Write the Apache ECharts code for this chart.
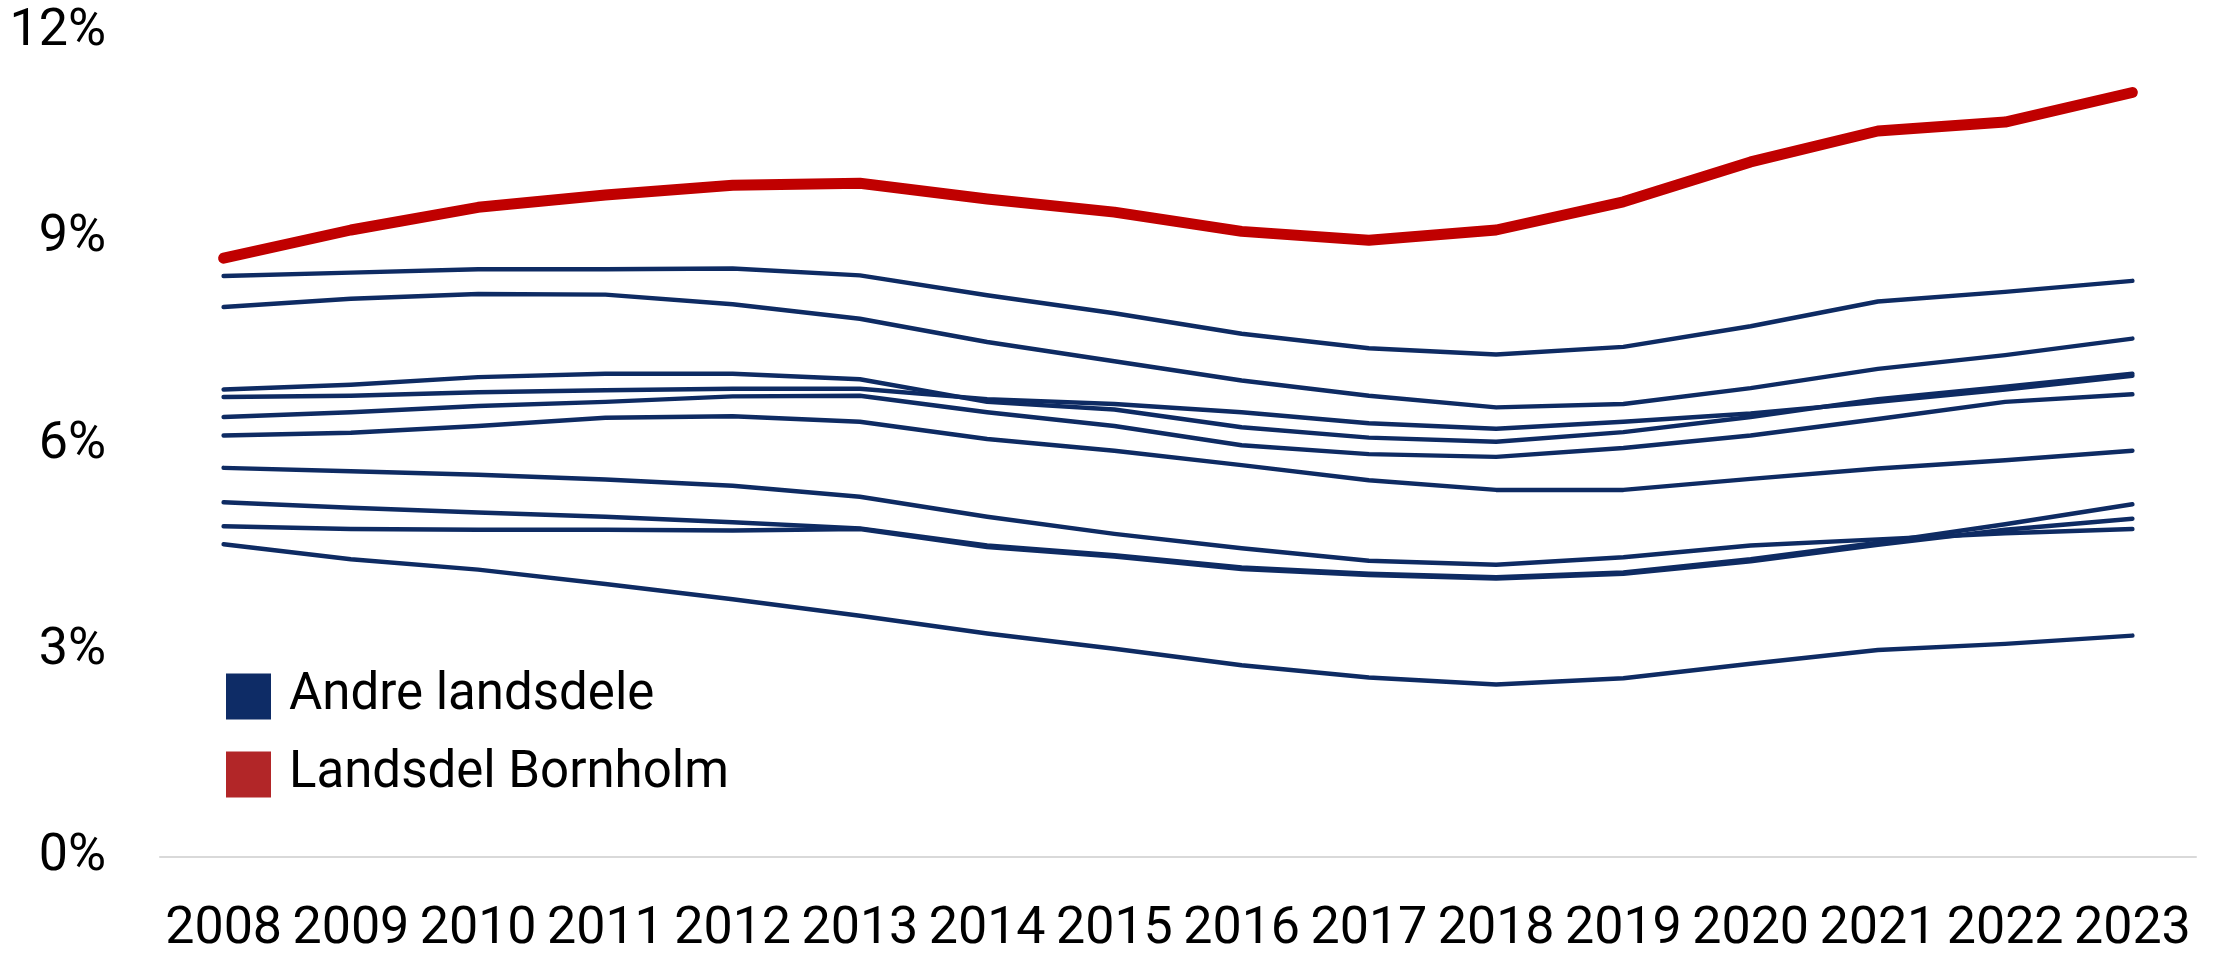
<!DOCTYPE html>
<html>
<head>
<meta charset="utf-8">
<script src="https://cdn.jsdelivr.net/npm/echarts@6/dist/echarts.min.js"></script>
<style>
html,body{margin:0;padding:0;background:#fff;}
#chart{width:2221px;height:956px;}
</style>
</head>
<body>
<div id="chart"></div>
<script>
const years = ['2008','2009','2010','2011','2012','2013','2014','2015','2016','2017','2018','2019','2020','2021','2022','2023'];
const yTickValues = [0, 3, 6, 9, 12];

const bornholm = [8.71, 9.12, 9.45, 9.63, 9.77, 9.80, 9.57, 9.38, 9.10, 8.97, 9.12, 9.53, 10.11, 10.56, 10.69, 11.12];

const andreA = [8.45, 8.50, 8.55, 8.55, 8.56, 8.46, 8.17, 7.91, 7.61, 7.40, 7.31, 7.42, 7.72, 8.08, 8.22, 8.38];
const andreB = [8.00, 8.12, 8.19, 8.18, 8.04, 7.83, 7.49, 7.21, 6.93, 6.71, 6.54, 6.59, 6.82, 7.10, 7.30, 7.54];
const andreC = [6.80, 6.87, 6.98, 7.03, 7.03, 6.95, 6.62, 6.51, 6.25, 6.10, 6.04, 6.18, 6.40, 6.66, 6.84, 7.03];
const andreD = [6.69, 6.71, 6.76, 6.79, 6.81, 6.81, 6.66, 6.59, 6.47, 6.31, 6.23, 6.33, 6.45, 6.62, 6.80, 7.00];
const andreE = [6.40, 6.47, 6.56, 6.62, 6.70, 6.71, 6.47, 6.27, 5.99, 5.86, 5.82, 5.95, 6.13, 6.37, 6.62, 6.73];
const andreF = [6.13, 6.17, 6.27, 6.39, 6.41, 6.33, 6.08, 5.91, 5.70, 5.48, 5.34, 5.34, 5.50, 5.65, 5.77, 5.91];
const andreG = [5.66, 5.61, 5.56, 5.49, 5.40, 5.24, 4.95, 4.70, 4.49, 4.31, 4.25, 4.36, 4.53, 4.62, 4.71, 4.77];
const andreH = [5.16, 5.08, 5.01, 4.95, 4.87, 4.78, 4.53, 4.39, 4.21, 4.12, 4.07, 4.14, 4.33, 4.57, 4.84, 5.13];
const andreI = [4.81, 4.77, 4.76, 4.76, 4.75, 4.77, 4.51, 4.37, 4.19, 4.10, 4.05, 4.12, 4.30, 4.54, 4.76, 4.92];
const andreJ = [4.55, 4.33, 4.18, 3.97, 3.75, 3.51, 3.25, 3.03, 2.79, 2.61, 2.51, 2.60, 2.81, 3.01, 3.10, 3.22];

const andreSeries = [andreA, andreB, andreC, andreD, andreE, andreF, andreG, andreH, andreI, andreJ];

const BLUE = '#0e2b63';
const RED = '#c00000';
const FONT = 'Roboto';

const series = andreSeries.map(d => ({
  name: 'Andre landsdele',
  type: 'line',
  data: d,
  symbol: 'none',
  silent: true,
  color: BLUE,
  lineStyle: { color: BLUE, width: 4.5, cap: 'round', join: 'round' },
  z: 2
}));
series.push({
  name: 'Landsdel Bornholm',
  type: 'line',
  data: bornholm,
  symbol: 'none',
  silent: true,
  color: RED,
  lineStyle: { color: RED, width: 11, cap: 'round', join: 'round' },
  z: 3
});

const chart = echarts.init(document.getElementById('chart'), null, { renderer: 'canvas' });
chart.setOption({
  animation: false,
  backgroundColor: '#ffffff',
  grid: { left: 160, right: 25, top: 32, bottom: 94, containLabel: false },
  legend: {
    orient: 'vertical',
    left: 221,
    top: 666,
    itemWidth: 45,
    itemHeight: 46,
    itemGap: 27,
    icon: 'rect',
    selectedMode: false,
    textStyle: { fontFamily: FONT, fontSize: 51, color: '#000', padding: [0, 0, 0, 13] },
    data: [
      { name: 'Andre landsdele', itemStyle: { color: '#0e2c66' } },
      { name: 'Landsdel Bornholm', itemStyle: { color: '#b22628' } }
    ]
  },
  xAxis: {
    type: 'category',
    data: years,
    boundaryGap: true,
    axisLine: { show: true, lineStyle: { color: '#d9d9d9', width: 2 } },
    axisTick: { show: false },
    axisLabel: { interval: 0, fontFamily: FONT, fontSize: 52, color: '#000', margin: 47 },
    splitLine: { show: false }
  },
  yAxis: {
    type: 'value',
    min: yTickValues[0],
    max: yTickValues[yTickValues.length - 1],
    interval: 3,
    axisLine: { show: false },
    axisTick: { show: false },
    splitLine: { show: false },
    axisLabel: { formatter: '{value}%', fontFamily: FONT, fontSize: 52, color: '#000', margin: 54, padding: [6, 0, 0, 0] }
  },
  series: series
});
</script>
</body>
</html>
